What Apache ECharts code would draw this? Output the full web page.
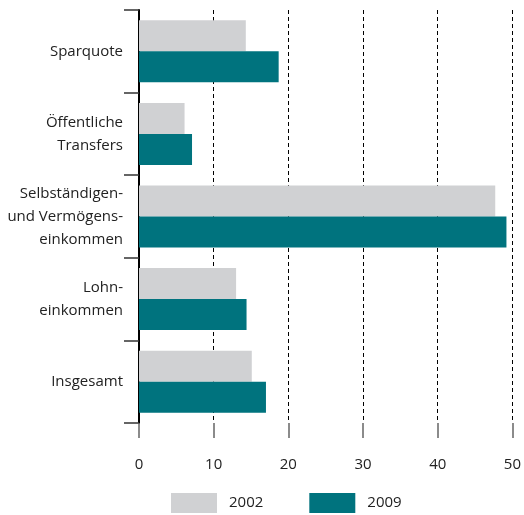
<!DOCTYPE html>
<html>
<head>
<meta charset="utf-8">
<script src="https://cdn.jsdelivr.net/npm/echarts@6/dist/echarts.min.js"></script>
<style>
  html, body { margin: 0; padding: 0; background: #fff; }
  #chart { width: 524px; height: 515px; }
</style>
</head>
<body>
<div id="chart"></div>
<script>
var categories = ['Sparquote', 'Öffentliche\nTransfers', 'Selbständigen-\nund Vermögens-\neinkommen', 'Lohn-\neinkommen', 'Insgesamt'];
var values2002 = [14.3, 6.1, 47.7, 13.0, 15.1];
var values2009 = [18.7, 7.1, 49.2, 14.4, 17.0];
var xTicks = [0, 10, 20, 30, 40, 50];

var fontFam = '"Open Sans", "Noto Sans", sans-serif';

var chart = echarts.init(document.getElementById('chart'));
chart.setOption({
  animation: false,
  grid: { left: 139, right: 11, top: 10, bottom: 92 },
  legend: {
    bottom: -3,
    left: 166,
    itemWidth: 46,
    itemHeight: 20,
    itemGap: 46,
    icon: 'rect',
    textStyle: { fontFamily: fontFam, fontSize: 15, color: '#222', padding: [0, 0, 0, 7] },
    data: ['2002', '2009']
  },
  xAxis: {
    type: 'value',
    min: 0,
    max: 50,
    interval: 10,
    axisLine: { show: false },
    axisTick: { show: true, length: 15, lineStyle: { color: '#666', width: 1.5 } },
    axisLabel: {
      margin: 34,
      fontFamily: fontFam,
      fontSize: 15,
      color: '#222',
      formatter: function (v) { return xTicks.indexOf(v) >= 0 ? String(v) : ''; }
    },
    splitLine: { show: true, lineStyle: { color: '#000', type: [4, 3], width: 1 } }
  },
  yAxis: {
    type: 'category',
    inverse: true,
    data: categories,
    axisLine: { show: true, lineStyle: { color: '#000', width: 2 } },
    axisTick: { show: true, length: 15, lineStyle: { color: '#333', width: 1.5 } },
    axisLabel: {
      margin: 16,
      fontFamily: fontFam,
      fontSize: 15,
      lineHeight: 23,
      color: '#222'
    }
  },
  series: [
    {
      name: '2002',
      type: 'bar',
      data: values2002,
      barWidth: 31,
      barGap: '0%',
      itemStyle: { color: '#d0d1d3' }
    },
    {
      name: '2009',
      type: 'bar',
      data: values2009,
      barWidth: 31,
      barGap: '0%',
      itemStyle: { color: '#00737e' }
    }
  ]
});
</script>
</body>
</html>
